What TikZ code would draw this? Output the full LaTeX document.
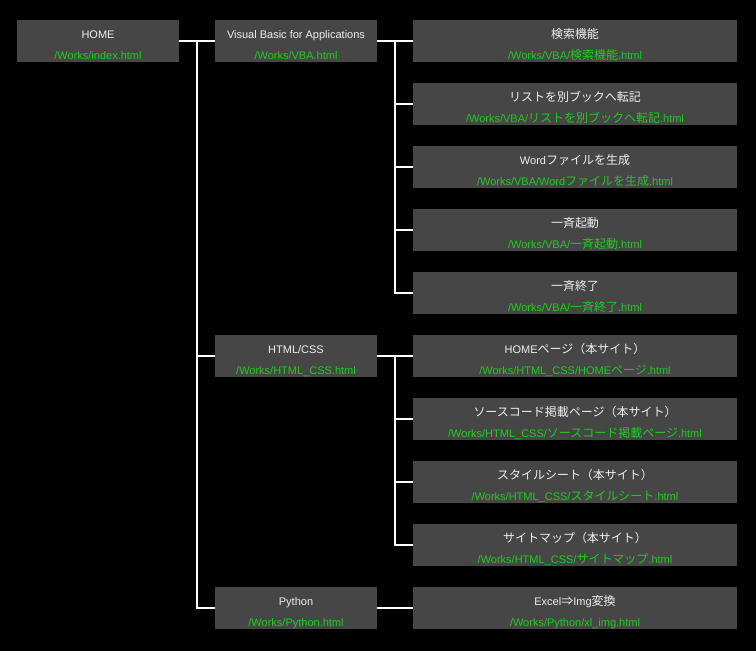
\documentclass[tikz,border=0pt]{standalone}
\usepackage{fontspec}
\usepackage{xcolor}
\usepackage{tikz}
\usetikzlibrary{positioning}
\setmainfont{Liberation Sans}
\newfontfamily\jpfont[Scale=1.09]{Noto Sans CJK JP}
\newcommand{\jp}[1]{{\jpfont #1}}
\definecolor{boxgrey}{RGB}{70,70,70}
\definecolor{urlgreen}{RGB}{30,205,30}
\definecolor{titlewhite}{RGB}{238,238,238}

\begin{document}
\begin{tikzpicture}[
  page/.style={fill=boxgrey, text=titlewhite, minimum width=162pt, minimum height=42pt, inner sep=0pt, outer sep=0pt, text height=18pt, text depth=24pt, font=\fontsize{11}{13}\selectfont},
  wide/.style={page, minimum width=324pt},
  urltext/.style={text=urlgreen, inner sep=0pt, outer sep=0pt, text height=8pt, text depth=0pt, yshift=11pt, font=\fontsize{11}{13}\selectfont},
  link/.style={draw=white, line width=2pt}
]
\fill[black] (0,0) rectangle (756pt,-651pt);
% top level
\node[page, label={[urltext]below:/Works/index.html}] (home) at (98pt,-41pt) {HOME};
\node[page, right=36pt of home, label={[urltext]below:/Works/VBA.html}] (vba) {Visual Basic for Applications};
% VBA pages
\node[wide, right=36pt of vba, label={[urltext]below:/Works/VBA/\jp{検索機能}.html}] (search) {\jp{検索機能}};
\node[wide, below=21pt of search, label={[urltext]below:/Works/VBA/\jp{リストを別ブックへ転記}.html}] (transfer) {\jp{リストを別ブックへ転記}};
\node[wide, below=21pt of transfer, label={[urltext]below:/Works/VBA/Word\jp{ファイルを生成}.html}] (word) {Word\jp{ファイルを生成}};
\node[wide, below=21pt of word, label={[urltext]below:/Works/VBA/\jp{一斉起動}.html}] (launch) {\jp{一斉起動}};
\node[wide, below=21pt of launch, label={[urltext]below:/Works/VBA/\jp{一斉終了}.html}] (shutdown) {\jp{一斉終了}};
% HTML/CSS pages
\node[wide, below=21pt of shutdown, label={[urltext]below:/Works/HTML\_CSS/HOME\jp{ページ}.html}] (homepage) {HOME\jp{ページ（本サイト）}};
\node[wide, below=21pt of homepage, label={[urltext]below:/Works/HTML\_CSS/\jp{ソースコード掲載ページ}.html}] (source) {\jp{ソースコード掲載ページ（本サイト）}};
\node[wide, below=21pt of source, label={[urltext]below:/Works/HTML\_CSS/\jp{スタイルシート}.html}] (stylesheet) {\jp{スタイルシート（本サイト）}};
\node[wide, below=21pt of stylesheet, label={[urltext]below:/Works/HTML\_CSS/\jp{サイトマップ}.html}] (sitemap) {\jp{サイトマップ（本サイト）}};
\node[page, left=36pt of homepage, label={[urltext]below:/Works/HTML\_CSS.html}] (html) {HTML/CSS};
% Python pages
\node[wide, below=21pt of sitemap, label={[urltext]below:/Works/Python/xl\_img.html}] (xlimg) {Excel\jp{⇒}Img\jp{変換}};
\node[page, left=36pt of xlimg, label={[urltext]below:/Works/Python.html}] (python) {Python};

% connectors
\coordinate (homefork) at ([xshift=18pt]home.east);
\coordinate (vbafork) at ([xshift=18pt]vba.east);
\coordinate (htmlfork) at ([xshift=18pt]html.east);
\draw[link] (home) -- (vba);
\draw[link] (homefork) |- (html);
\draw[link] (homefork) |- (python);
\draw[link] (vba) -- (search);
\draw[link] (vbafork) |- (transfer);
\draw[link] (vbafork) |- (word);
\draw[link] (vbafork) |- (launch);
\draw[link] (vbafork) |- (shutdown);
\draw[link] (html) -- (homepage);
\draw[link] (htmlfork) |- (source);
\draw[link] (htmlfork) |- (stylesheet);
\draw[link] (htmlfork) |- (sitemap);
\draw[link] (python) -- (xlimg);
\end{tikzpicture}
\end{document}
